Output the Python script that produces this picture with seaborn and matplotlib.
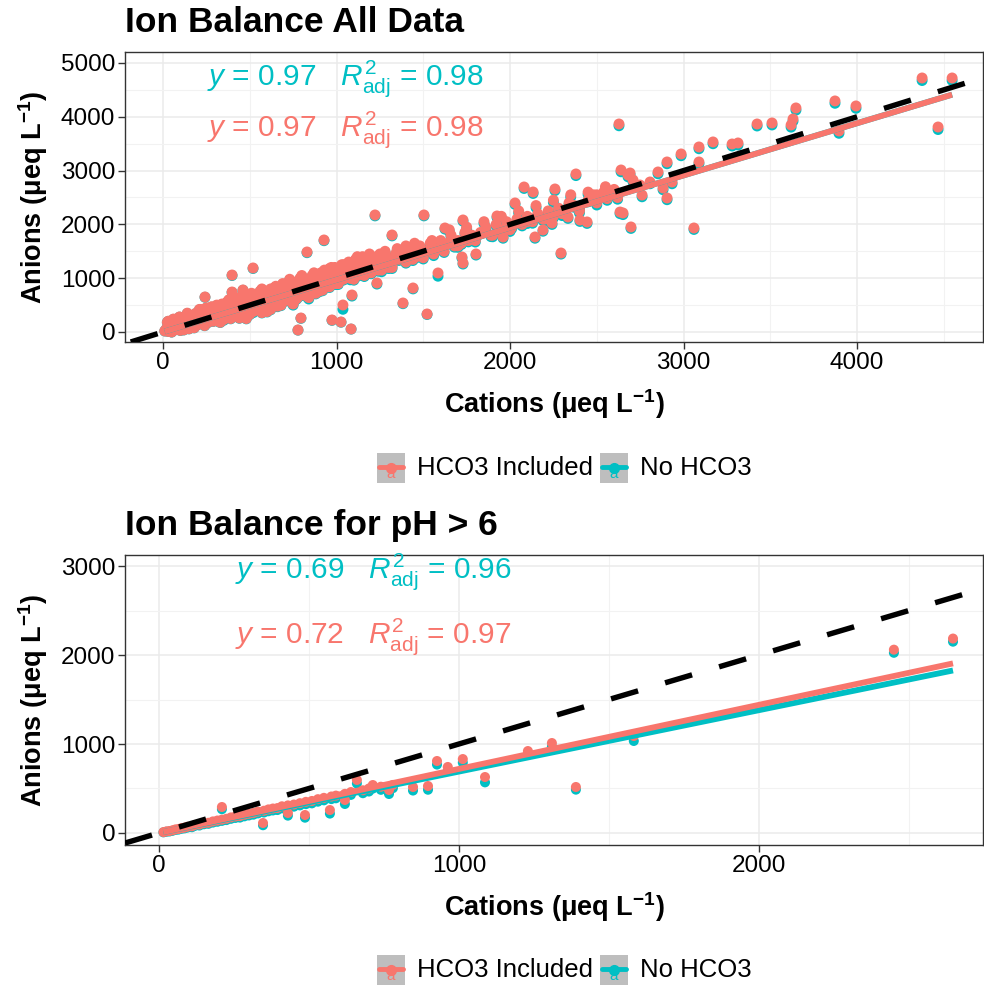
import numpy as np
import pandas as pd
import matplotlib
matplotlib.use("Agg")
import matplotlib.pyplot as plt
import seaborn as sns
from matplotlib.lines import Line2D
from matplotlib.patches import Rectangle
from matplotlib.ticker import MultipleLocator

sns.set_theme(style="white")
plt.rcParams['font.family'] = ['Liberation Sans', 'DejaVu Sans']
plt.rcParams['text.color'] = 'black'
plt.rcParams['axes.labelcolor'] = 'black'
plt.rcParams['mathtext.fontset'] = 'custom'
plt.rcParams['mathtext.rm'] = 'Liberation Sans'
plt.rcParams['mathtext.it'] = 'Liberation Sans:italic'
plt.rcParams['mathtext.bf'] = 'Liberation Sans:bold'

# ---------------- data: all samples (cations, anions incl. HCO3, HCO3 part) ----------------
top_cations = [
    10, 20, 30, 40, 50, 60, 70, 80, 90, 100, 110, 120, 130, 140, 150, 25, 60, 95, 120, 145,
    160, 170, 180, 190, 200, 210, 220, 230, 240, 250, 260, 270, 280, 290, 300, 310, 320, 330, 340, 350,
    360, 370, 380, 390, 400, 242, 398, 398, 461,
    410, 420, 430, 440, 450, 460, 470, 480, 490, 500, 510, 520, 530, 540, 550, 560, 570, 580, 590, 600,
    610, 620, 630, 640, 650, 660, 670, 680, 690, 700, 519,
    710, 720, 730, 740, 750, 760, 770, 780, 790, 800, 810, 820, 830, 840, 850, 860, 870, 880, 890, 900,
    910, 920, 930, 940, 950, 960, 970, 980, 990, 1000, 778, 795, 830, 928, 974, 1026, 1037, 1089, 1084,
    1010, 1020, 1030, 1040, 1050, 1060, 1070, 1080, 1090, 1100, 1110, 1120, 1130, 1140, 1150, 1160, 1170, 1180, 1190, 1200,
    1210, 1220, 1230, 1240, 1250, 1260, 1270, 1280, 1290, 1300, 1222, 1233, 1320, 1383, 1441, 1504, 1522, 1585,
    1320, 1340, 1360, 1380, 1400, 1420, 1440, 1460, 1480, 1500, 1520, 1540, 1560, 1580, 1600, 1620, 1640, 1660, 1680, 1700,
    1720, 1740, 1760, 1780, 1800, 1625, 1729, 1723, 1804, 1729,
    1830, 1860, 1890, 1920, 1950, 1980, 2010, 2040, 2070, 2100, 2130, 2160, 2190, 2220, 2250, 2280, 2310, 2340, 2370, 2400,
    1925, 1960, 2029, 2081, 2133, 2144, 2190, 2242, 2259, 2294, 2334, 2380, 2403, 2444,
    2450, 2480, 2510, 2540, 2570, 2600, 2620, 2640, 2680, 2749, 2634, 2697, 2628, 2651, 2761, 2692, 2709, 2807, 2853, 2882,
    2905, 2934, 2986, 2905, 3060, 2500, 2560,
    3089, 3089, 3170, 3280, 3314, 3424, 3510, 3620, 3631, 3648, 3873, 3896, 3994, 4375, 4467, 4548,
    30, 50, 70, 90, 110, 130, 150, 170, 190, 210, 230, 250, 270, 290, 310, 330, 350, 370, 390, 410,
    430, 450, 470, 490, 510, 530, 550, 570, 590, 610, 630, 650, 670, 690, 710, 730, 750, 770, 790, 810,
    830, 850, 870, 890, 910, 930, 950, 970, 990, 1050, 1100, 1150, 1200, 1250, 1300, 1350, 1400, 1450, 1500, 1550,
    1600, 1650, 1700, 1750, 1800, 1850, 1900, 1950, 2000, 2050, 2100, 2150, 2200, 2250, 2300, 2350, 2400, 2450, 2500, 2550,
    40, 80, 120, 160, 200, 240, 280, 320, 360, 400, 440, 480, 520, 560, 600, 640, 680, 720, 760, 800,
    840, 880, 920, 960, 1000, 1040, 1080, 1120, 1160, 1200, 1240, 1280, 1320, 1360, 1400, 1440, 1480, 60, 100, 140,
    180, 220, 260, 300, 340, 380, 420, 460, 500, 540, 580, 620, 660, 700, 740, 780, 820, 860, 900, 940,
]
top_anions = [
    20, 60, 10, 120, 80, 30, 150, 200, 50, 110, 250, 180, 90, 300, 140, 180, 240, 280, 40, 220,
    100, 260, 190, 350, 140, 300, 230, 420, 160, 310, 380, 250, 470, 200, 330, 260, 400, 300, 520, 230,
    430, 350, 290, 480, 380, 651, 1059, 743, 781,
    320, 540, 450, 260, 600, 400, 510, 330, 650, 470, 560, 380, 700, 520, 440, 620, 360, 580, 720, 500,
    640, 420, 560, 760, 600, 480, 700, 820, 560, 650, 1190,
    760, 600, 850, 700, 520, 800, 920, 660, 760, 880, 700, 980, 780, 640, 900, 1050, 820, 720, 960, 880,
    1100, 780, 1000, 900, 1150, 840, 1050, 950, 1200, 1000, 37, 260, 1487, 1710, 223, 186, 502, 688, 56,
    900, 1100, 1250, 980, 1150, 1050, 1300, 1000, 1200, 1100, 1350, 1050, 1250, 1150, 1400, 1100, 1300, 1200, 1450, 1150,
    1300, 1250, 1400, 1200, 1350, 1150, 1300, 1450, 1250, 1350, 2175, 911, 1803, 539, 818, 2175, 335, 1097,
    1200, 1450, 1350, 1500, 1300, 1450, 1550, 1400, 1600, 1450, 1500, 1650, 1450, 1550, 1700, 1500, 1650, 1800, 1600, 1700,
    1650, 1850, 1700, 1800, 1750, 1933, 1283, 1394, 1450, 2082,
    1850, 1950, 1800, 2000, 1900, 2050, 1950, 2100, 2000, 2150, 2050, 2200, 2100, 2250, 2150, 2300, 2250, 2400, 2350, 2300,
    2156, 1766, 2398, 2695, 2602, 1766, 1896, 2026, 2658, 1468, 2138, 2937, 2082, 2045,
    2450, 2550, 2500, 2600, 2550, 2650, 2500, 3011, 2918, 2732, 2230, 1952, 3866, 2212, 2546, 2955, 2825, 2788, 2974, 2677,
    2491, 2788, 3309, 3160, 1933, 2550, 2480,
    3439, 3160, 3532, 3494, 3513, 3866, 3885, 3848, 3959, 4164, 4294, 3736, 4201, 4721, 3810, 4721,
    200, 0, 60, 220, 120, 260, 60, 180, 120, 420, 150, 450, 350, 300, 500, 180, 420, 560, 250, 620,
    330, 480, 700, 380, 720, 450, 640, 800, 500, 760, 480, 850, 560, 900, 640, 980, 700, 620, 1000, 820,
    950, 760, 1100, 820, 960, 1150, 880, 1200, 900, 1250, 980, 1300, 1100, 1450, 1200, 1550, 1400, 1650, 1380, 1700,
    1550, 1900, 1600, 1950, 1700, 2050, 1800, 2150, 1900, 2250, 2050, 2350, 2100, 2450, 2200, 2550, 2250, 2600, 2400, 2700,
    100, 240, 60, 280, 320, 120, 400, 200, 520, 300, 640, 250, 560, 760, 380, 820, 500, 860, 600, 1050,
    700, 1000, 820, 1180, 900, 1250, 1000, 1400, 1050, 1350, 1150, 1500, 1250, 1400, 1600, 1350, 1550, 150, 30, 350,
    80, 380, 180, 470, 260, 600, 300, 620, 330, 700, 470, 800, 520, 880, 560, 950, 680, 1000, 760, 1050,
]
top_hco3 = [
    2, 3, 0, 5, 3, 2, 6, 3, 2, 5, 6, 3, 2, 8, 5, 3, 6, 5, 2, 3,
    3, 6, 5, 8, 3, 6, 5, 10, 3, 8, 6, 5, 10, 3, 6, 5, 8, 6, 10, 13,
    8, 6, 5, 10, 8, 6, 10, 8, 6,
    6, 10, 8, 5, 12, 8, 10, 6, 13, 10, 12, 20, 13, 10, 8, 12, 6, 10, 13, 10,
    12, 8, 10, 13, 12, 10, 13, 15, 10, 12, 10,
    13, 10, 15, 12, 20, 13, 17, 12, 13, 15, 12, 17, 13, 27, 15, 18, 13, 12, 17, 15,
    18, 13, 17, 15, 20, 13, 18, 17, 20, 17, 3, 7, 13, 13, 7, 5, 80, 20, 3,
    17, 20, 18, 15, 20, 17, 22, 30, 18, 20, 22, 17, 20, 18, 22, 17, 20, 18, 22, 27,
    20, 18, 22, 17, 20, 30, 18, 22, 20, 18, 17, 20, 17, 13, 17, 17, 10, 60,
    20, 22, 20, 23, 20, 22, 23, 20, 25, 22, 23, 25, 30, 23, 25, 22, 23, 27, 23, 25,
    23, 27, 25, 27, 25, 20, 20, 20, 20, 23,
    27, 25, 27, 28, 27, 28, 27, 30, 28, 30, 28, 30, 28, 32, 30, 32, 30, 33, 32, 30,
    27, 23, 27, 27, 27, 23, 23, 27, 30, 20, 27, 30, 27, 27,
    30, 32, 30, 32, 30, 33, 32, 33, 33, 33, 30, 27, 33, 30, 33, 33, 33, 33, 33, 33,
    32, 33, 33, 33, 27, 30, 32,
    33, 33, 33, 37, 37, 37, 37, 40, 40, 40, 43, 43, 43, 47, 47, 47,
    3, 2, 4, 5, 3, 6, 2, 4, 3, 8, 4, 8, 6, 5, 9, 4, 7, 10, 5, 11,
    6, 8, 12, 7, 12, 8, 11, 13, 9, 13, 8, 14, 10, 15, 11, 16, 12, 11, 17, 14,
    16, 13, 18, 14, 16, 19, 15, 20, 15, 21, 17, 22, 18, 24, 20, 25, 23, 27, 23, 28,
    26, 31, 27, 32, 28, 34, 30, 35, 31, 37, 33, 38, 34, 40, 36, 41, 37, 43, 40, 44,
    3, 5, 2, 6, 7, 3, 8, 5, 10, 6, 12, 6, 11, 14, 8, 15, 10, 16, 12, 18,
    13, 17, 15, 20, 16, 21, 18, 23, 19, 22, 20, 24, 21, 23, 25, 22, 24, 4, 2, 7,
    3, 8, 5, 9, 6, 11, 7, 12, 8, 13, 10, 14, 11, 15, 12, 16, 13, 17, 14, 18,
]

# ---------------- data: samples with pH > 6 ----------------
ph_cations = [15, 25, 35, 45, 55, 65, 75, 85, 95, 110, 120, 135, 150, 165, 180, 195, 210, 210, 225, 240,
              255, 270, 285, 300, 315, 330, 347, 350, 365, 380, 395, 410, 430, 430, 450, 470, 487, 490, 510, 530,
              550, 570, 575, 590, 620, 620, 640, 660, 680, 700, 713, 740, 767, 780, 847, 897, 927, 963, 1013, 1087,
              1230, 1310, 1390, 1583, 2450, 2647]
ph_anions = [10, 18, 22, 30, 40, 45, 55, 60, 70, 75, 90, 95, 110, 115, 130, 140, 292, 150, 160, 175,
             185, 190, 205, 215, 225, 240, 112, 250, 265, 275, 280, 300, 225, 310, 320, 335, 202, 350, 360, 380,
             395, 258, 410, 420, 371, 440, 460, 596, 480, 500, 539, 520, 483, 540, 517, 528, 809, 742, 831, 629,
             921, 1011, 517, 1090, 2060, 2185]
ph_hco3 = [3, 4, 5, 6, 6, 7, 8, 8, 9, 10, 10, 11, 12, 12, 13, 14, 25, 14, 15, 16,
           16, 17, 18, 18, 19, 20, 25, 20, 21, 22, 22, 23, 30, 24, 24, 25, 30, 26, 27, 28,
           28, 40, 29, 30, 45, 31, 32, 40, 33, 34, 40, 35, 45, 36, 40, 42, 40, 45, 40, 60,
           40, 40, 30, 56, 35, 35]

groups = ["HCO3 Included", "No HCO3"]
top_slopes = [0.97, 0.97]
top_r2 = [0.98, 0.98]
ph_slopes = [0.72, 0.69]
ph_r2 = [0.97, 0.96]

titles = ["Ion Balance All Data", "Ion Balance for pH > 6"]
palette = {"HCO3 Included": "#F8766D", "No HCO3": "#00BFC4"}


def make_df(cat, an, hc):
    n = min(len(cat), len(an), len(hc))
    cat = np.array(cat[:n], float)
    an = np.array(an[:n], float)
    hc = np.array(hc[:n], float)
    d_no = pd.DataFrame({"cations": cat, "anions": an - hc, "group": "No HCO3"})
    d_in = pd.DataFrame({"cations": cat, "anions": an, "group": "HCO3 Included"})
    return pd.concat([d_no, d_in], ignore_index=True)


W, H = 984, 988
fig = plt.figure(figsize=(W / 100, H / 100), dpi=100)
fig.patch.set_facecolor("white")


def px_axes(x0, y0, x1, y1):
    return fig.add_axes([x0 / W, 1 - y1 / H, (x1 - x0) / W, (y1 - y0) / H])


panels = [
    dict(df=make_df(top_cations, top_anions, top_hco3), slopes=top_slopes, r2=top_r2,
         box=(125, 52, 983, 342), xlim=(-219, 4726), ylim=(-186, 5204),
         xt=1000, yt=1000, ann_x=0.096, ann_y=(0.886, 0.710), title_y=22, leg_y=468, ms=62),
    dict(df=make_df(ph_cations, ph_anions, ph_hco3), slopes=ph_slopes, r2=ph_r2,
         box=(125, 555, 983, 845), xlim=(-113, 2747), ylim=(-135, 3124),
         xt=1000, yt=1000, ann_x=0.128, ann_y=(0.921, 0.697), title_y=525, leg_y=970, ms=52),
]

for i, p in enumerate(panels):
    ax = px_axes(*p["box"])
    df = p["df"]
    ax.set_facecolor("white")
    ax.set_axisbelow(True)
    ax.xaxis.set_major_locator(MultipleLocator(p["xt"]))
    ax.yaxis.set_major_locator(MultipleLocator(p["yt"]))
    ax.xaxis.set_minor_locator(MultipleLocator(p["xt"] / 2))
    ax.yaxis.set_minor_locator(MultipleLocator(p["yt"] / 2))
    ax.grid(True, which="major", color="#EBEBEB", lw=1.1)
    ax.grid(True, which="minor", color="#F2F2F2", lw=0.8)

    sns.scatterplot(data=df, x="cations", y="anions", hue="group", palette=palette,
                    s=p["ms"], edgecolor="none", linewidth=0, legend=False, ax=ax, zorder=3)

    # fitted lines (through origin) from stated slopes
    for g, slope in zip(groups[::-1], p["slopes"][::-1]):
        sub = df[df.group == g]
        xs = np.array([sub.cations.min(), sub.cations.max()])
        line_df = pd.DataFrame({"x": xs, "y": slope * xs})
        sns.lineplot(data=line_df, x="x", y="y", color=palette[g], lw=4.2, ax=ax,
                     zorder=4, solid_capstyle="butt")

    ax.axline((0, 0), slope=1, color="black", lw=3.9, dashes=(5.2, 5.2), zorder=5,
              dash_capstyle="butt")

    ax.set_xlim(*p["xlim"])
    ax.set_ylim(*p["ylim"])

    for s in ax.spines.values():
        s.set_color("#333333")
        s.set_linewidth(1.0)
    ax.tick_params(axis="both", which="major", length=5, width=1, color="#333333",
                   labelsize=17.5, labelcolor="black", pad=2, direction="out",
                   bottom=True, left=True)
    ax.tick_params(axis="both", which="minor", length=0)

    ax.set_xlabel(r"Cations (μeq L$^{\mathbf{-1}}$)", fontsize=19.5, fontweight="bold",
                  labelpad=10, color="black")
    ax.set_ylabel(r"Anions (μeq L$^{\mathbf{-1}}$)", fontsize=19.5, fontweight="bold",
                  labelpad=8, color="black")

    # equation annotations
    ann_order = [("No HCO3", 1), ("HCO3 Included", 0)]
    for (g, idx), ay in zip(ann_order, p["ann_y"]):
        txt = r"$y$ = %.2f   $R^{2}_{\mathrm{adj}}$ = %.2f" % (p["slopes"][idx], p["r2"][idx])
        ax.text(p["ann_x"], ay, txt, transform=ax.transAxes, color=palette[g],
                fontsize=21.5, ha="left", va="baseline", zorder=6)

    # title
    fig.text(125 / W, 1 - p["title_y"] / H, titles[i], fontsize=25.5, fontweight="bold",
             ha="left", va="center", color="black")

    # legend (drawn manually to mimic ggplot keys)
    ly = p["leg_y"]
    items = [("HCO3 Included", 377, 417), ("No HCO3", 600, 640)]
    for g, kx, tx in items:
        fig.add_artist(Rectangle((kx / W, 1 - (ly + 15) / H), 28 / W, 30 / H,
                                 transform=fig.transFigure, facecolor="#BEBEBE",
                                 edgecolor="none"))
        fig.add_artist(Line2D([(kx + 2) / W, (kx + 26) / W], [1 - (ly - 1) / H] * 2,
                              transform=fig.transFigure, color=palette[g], lw=3.5))
        fig.add_artist(Line2D([(kx + 14) / W], [1 - ly / H], transform=fig.transFigure,
                              marker="o", markersize=7, color=palette[g], lw=0))
        fig.text((kx + 14) / W, 1 - (ly + 6) / H, "a", color=palette[g], fontsize=11,
                 ha="center", va="center")
        fig.text(tx / W, 1 - ly / H, g, fontsize=18.5, ha="left", va="center", color="black")

fig.savefig("out.png", dpi=100, facecolor="white")
